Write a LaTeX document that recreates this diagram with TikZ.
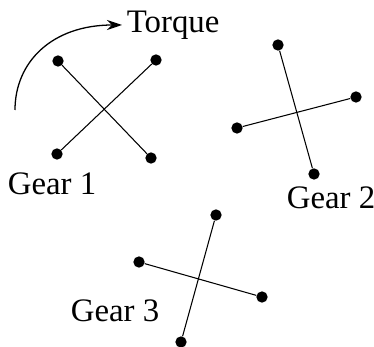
\documentclass[tikz,border=0pt]{standalone}
\usepackage{fontspec}
\setmainfont{Liberation Serif}
\usetikzlibrary{arrows.meta}

\begin{document}
\begin{tikzpicture}[x=0.03cm, y=-0.03cm,
  every node/.style={font=\fontsize{28}{30}\selectfont},
  pin/.style={circle, fill=black, inner sep=0pt, minimum size=0.34cm},
  arm/.style={line width=0.9pt, black}]
  \useasboundingbox (0,0) rectangle (374,347);

  % Gear 1
  \node[pin] (g1a) at (58,61) {};
  \node[pin] (g1b) at (151,158) {};
  \node[pin] (g1c) at (156,60) {};
  \node[pin] (g1d) at (57,154) {};
  \draw[arm] (g1a) -- (g1b);
  \draw[arm] (g1c) -- (g1d);
  \node (lab1) at (52,184) {Gear 1};

  % Gear 2
  \node[pin] (g2a) at (278,45) {};
  \node[pin] (g2b) at (314,174) {};
  \node[pin] (g2c) at (237,128) {};
  \node[pin] (g2d) at (356,97) {};
  \draw[arm] (g2a) -- (g2b);
  \draw[arm] (g2c) -- (g2d);
  \node (lab2) at (331,198) {Gear 2};

  % Gear 3
  \node[pin] (g3a) at (216,215) {};
  \node[pin] (g3b) at (181,342) {};
  \node[pin] (g3c) at (139,262) {};
  \node[pin] (g3d) at (262,297) {};
  \draw[arm] (g3a) -- (g3b);
  \draw[arm] (g3c) -- (g3d);
  \node (lab3) at (115,311) {Gear 3};

  % Applied torque
  \coordinate (tqs) at (15,110);
  \coordinate (tqe) at (122,25);
  \draw[line width=1.1pt, -{Stealth[length=4.5mm, width=3mm]}]
    (tqs) .. controls (15,62) and (52,25) .. (tqe);
  \node[anchor=west, inner sep=4pt] (tq) at (tqe) {Torque};
\end{tikzpicture}
\end{document}
